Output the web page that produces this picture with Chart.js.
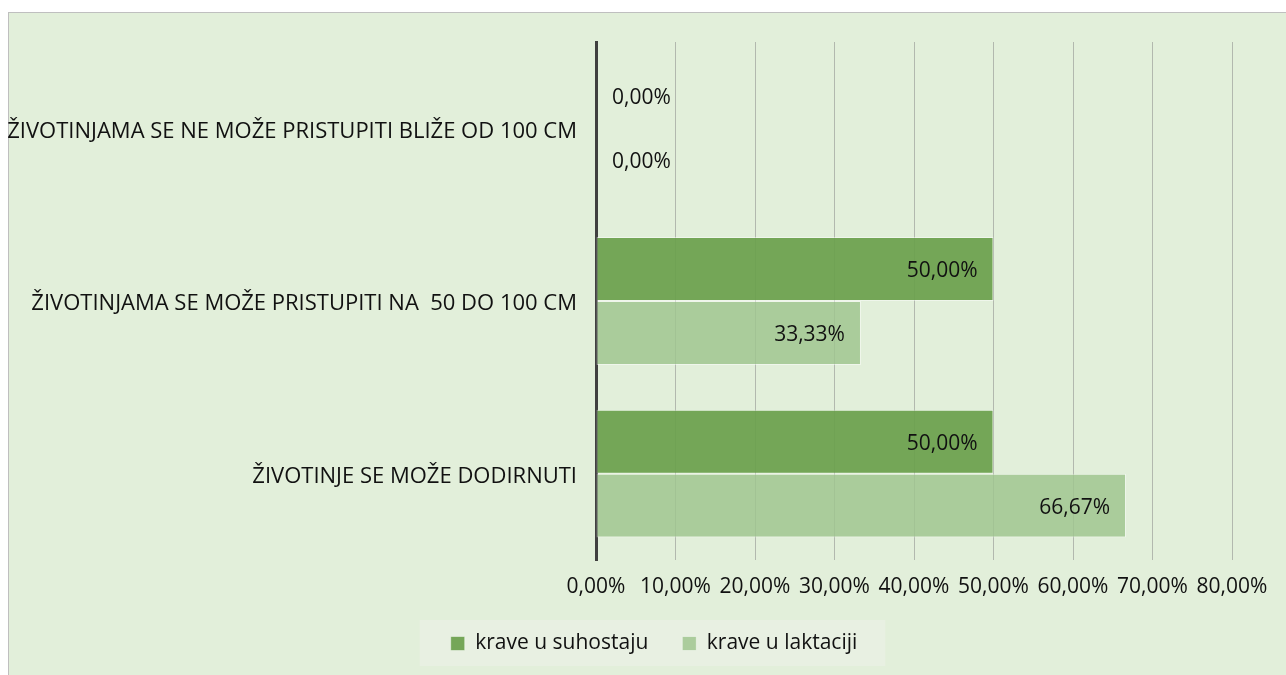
<!DOCTYPE html>
<html>
<head>
<meta charset="utf-8">
<script src="https://cdn.jsdelivr.net/npm/chart.js@4"></script>
<style>
  html, body { margin: 0; padding: 0; background: #ffffff; overflow: hidden; }
  #frame {
    position: absolute; left: 8px; top: 12px; width: 1290px; height: 670px;
    background: #e2efda; border: 1px solid #bfbfbf;
  }
  #wrap { position: absolute; left: 0; top: 0; width: 1286px; height: 675px; }
</style>
</head>
<body>
<div id="frame"></div>
<div id="wrap"><canvas id="chart" width="1286" height="675"></canvas></div>
<script>
// categories, top to bottom
const categories = [
  "ŽIVOTINJAMA SE NE MOŽE PRISTUPITI BLIŽE OD 100 CM",
  "ŽIVOTINJAMA SE MOŽE PRISTUPITI NA  50 DO 100 CM",
  "ŽIVOTINJE SE MOŽE DODIRNUTI"
];
const seriesNames = ["krave u suhostaju", "krave u laktaciji"];
const suhostaju = [0, 50, 50];
const laktaciji = [0, 33.33, 66.67];
const xTicks = [0, 10, 20, 30, 40, 50, 60, 70, 80];

const FONT = "'Open Sans', 'DejaVu Sans', sans-serif";
const TEXT = "#111111";

// percent with comma decimal
function pct(v) {
  return v.toFixed(2).replace(".", ",") + "%";
}

// value labels on the bars
const barLabels = {
  id: "barLabels",
  afterDatasetsDraw(chart) {
    const ctx = chart.ctx;
    ctx.save();
    ctx.font = "21px " + FONT;
    ctx.fillStyle = TEXT;
    ctx.textBaseline = "middle";
    chart.data.datasets.forEach((ds, i) => {
      const meta = chart.getDatasetMeta(i);
      meta.data.forEach((bar, j) => {
        const v = ds.data[j];
        if (v === 0) {
          ctx.textAlign = "left";
          ctx.fillText(pct(v), bar.x + 16, bar.y + 2);
        } else {
          ctx.textAlign = "right";
          ctx.fillText(pct(v), bar.x - 16, bar.y + 2);
        }
      });
    });
    ctx.restore();
  }
};

// light box behind the legend, legend nudged right like the original
const legendBox = {
  id: "legendBox",
  afterLayout(chart) {
    if (!chart.legend) return;
    chart.legend.left += 38;
    chart.legend.right += 38;
  },
  beforeDraw(chart) {
    const boxes = chart.legend && chart.legend.legendHitBoxes;
    if (!boxes || !boxes.length) return;
    const left = Math.min(...boxes.map(b => b.left)) - 31;
    const right = Math.max(...boxes.map(b => b.left + b.width)) + 28;
    const ctx = chart.ctx;
    ctx.save();
    ctx.fillStyle = "#e8f0e2";
    ctx.fillRect(left, 620, right - left, 46);
    ctx.restore();
  }
};

new Chart(document.getElementById("chart"), {
  type: "bar",
  data: {
    labels: categories,
    datasets: [
      {
        label: seriesNames[0],
        data: suhostaju,
        backgroundColor: "rgba(106,159,76,0.92)",
        borderColor: "rgba(255,255,255,0.45)",
        borderWidth: 1,
        borderSkipped: false
      },
      {
        label: seriesNames[1],
        data: laktaciji,
        backgroundColor: "rgba(160,197,143,0.85)",
        borderColor: "rgba(255,255,255,0.45)",
        borderWidth: 1,
        borderSkipped: false
      }
    ]
  },
  options: {
    indexAxis: "y",
    responsive: false,
    animation: false,
    events: [],
    layout: { padding: { top: 42, right: 54, left: 0, bottom: 11 } },
    datasets: { bar: { categoryPercentage: 0.74, barPercentage: 1.0 } },
    scales: {
      x: {
        min: 0,
        max: 80,
        afterBuildTicks(scale) {
          scale.ticks = xTicks.map(v => ({ value: v }));
        },
        afterFit(scale) { scale.height = 39; },
        grid: { color: "rgba(130,130,130,0.5)", lineWidth: 1, drawTicks: false },
        border: { display: false },
        ticks: {
          padding: 14,
          color: TEXT,
          font: { family: FONT, size: 21 },
          maxRotation: 0,
          autoSkip: false,
          callback: v => pct(v)
        }
      },
      y: {
        z: 1,
        afterFit(scale) { scale.width = 596; },
        grid: { display: false },
        border: { display: true, color: "#404040", width: 3 },
        ticks: {
          padding: 11,
          labelOffset: 3,
          color: TEXT,
          font: { family: FONT, size: 22 }
        }
      }
    },
    plugins: {
      tooltip: { enabled: false },
      legend: {
        position: "bottom",
        labels: {
          boxWidth: 14,
          boxHeight: 14,
          padding: 34,
          color: TEXT,
          font: { family: FONT, size: 21 }
        }
      }
    }
  },
  plugins: [legendBox, barLabels]
});
</script>
</body>
</html>
